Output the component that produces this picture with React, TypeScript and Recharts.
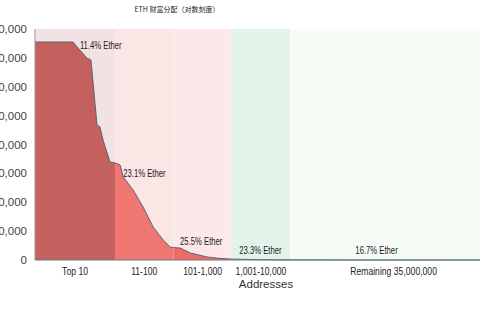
import {
  Area,
  ComposedChart,
  ReferenceArea,
  ReferenceDot,
  XAxis,
  YAxis,
} from "recharts";

// ETH 持币分布：地址按持有量排名 (对数 X 轴) vs 持有量
const title = "ETH 财富分配（对数刻度）";

// 排名 → 余额 (ETH)
const ranks = [0.425, 1.9, 2.5, 3.3, 3.87, 4.91, 5.53, 6.23, 8.2, 10, 12.2, 13.8, 20.4, 30.2, 44.9, 66.7, 88, 100, 131, 195, 380, 600, 935, 1000, 3100, 10000, 100000, 35000000];
const balances = [1510000, 1510000, 1454000, 1399000, 1385000, 935000, 921000, 831000, 679000, 672000, 658000, 575000, 485000, 367000, 229000, 138500, 90000, 86000, 83000, 48500, 20800, 12000, 6900, 6500, 2000, 1000, 200, 0];

// 区间 (地址分组)
const bandKeys = ["top", "mid", "low", "k10", "rest"];
const bandLabels = ["Top 10", "11-100", "101-1,000", "1,001-10,000", "Remaining 35,000,000"];
const bandLo = [0.425, 10, 100, 1000, 10000];
const bandHi = [10, 100, 1000, 10000, 35000000];
const bandBg = ["#f1e2e3", "#fbe5e5", "#fce8e8", "#e2f3ea", "#f5fcf6"];
const bandFill = ["#c4605e", "#f07672", "#ee6c68", "#e8a09a", "#e8a09a"];

// 每组占比标注
const shareText = ["11.4% Ether", "23.1% Ether", "25.5% Ether", "23.3% Ether", "16.7% Ether"];
const shareRank = [2.5, 13.8, 130, 1340, 131000];
const shareValue = [1489000, 602600, 131600, 69300, 69300];

const yTicks = [0, 200000, 400000, 600000, 800000, 1000000, 1200000, 1400000, 1600000];

const data = ranks.map((r, i) => {
  const row: Record<string, number | null> = { rank: r };
  bandKeys.forEach((k, b) => {
    row[k] = r >= bandLo[b] && r <= bandHi[b] ? balances[i] : null;
  });
  return row;
});

const bandCenters = bandLo.map((lo, i) => Math.sqrt(lo * bandHi[i]));

const sans = "'Liberation Sans', Arial, sans-serif";

// 原图文字是压窄的 Arial，用 scaleX 模拟
function NarrowText({ x, y, text, anchor, size, dy, sx }: { x: number; y: number; text: string; anchor: "start" | "middle"; size: number; dy: number; sx: number }) {
  return (
    <text
      transform={`translate(${x},${y}) scale(${sx},1)`}
      x={0}
      y={0}
      dy={dy}
      textAnchor={anchor}
      fontSize={size}
      fontFamily={sans}
      fill="#222"
    >
      {text}
    </text>
  );
}

const XTick = (props: any) => {
  const { x, y, payload } = props;
  const idx = bandCenters.findIndex((c) => Math.abs(c - payload.value) / c < 1e-6);
  return <NarrowText x={x} y={y} text={bandLabels[idx] ?? ""} anchor="middle" size={11.5} dy={7} sx={0.75} />;
};

export default function App() {
  return (
    <div style={{ position: "fixed", left: 0, top: 0, width: 480, height: 320, overflow: "hidden", background: "#fff" }}>
      <div
        style={{
          position: "absolute",
          left: 0,
          width: 354,
          top: 4,
          textAlign: "center",
          fontFamily: "'Noto Sans CJK SC', sans-serif",
          fontSize: 7,
          color: "#222",
          lineHeight: "10px",
        }}
      >
        {title}
      </div>
      <div style={{ position: "absolute", left: -25, top: 0 }}>
        <ComposedChart width={522} height={320} data={data} margin={{ top: 29, right: 0, left: 0, bottom: 27 }}>
          {bandKeys.map((k, i) => (
            <ReferenceArea key={k} x1={bandLo[i]} x2={bandHi[i]} y1={0} y2={1600000} fill={bandBg[i]} fillOpacity={1} stroke="none" ifOverflow="hidden" />
          ))}
          <XAxis
            type="number"
            dataKey="rank"
            scale="log"
            domain={[0.425, 35000000]}
            allowDataOverflow
            ticks={bandCenters}
            interval={0}
            tick={<XTick />}
            tickLine={false}
            stroke="#6b7b80"
            height={33}
            label={{ value: "Addresses", position: "insideBottom", offset: 5, fontSize: 11.5, fill: "#333", fontFamily: sans }}
          />
          <YAxis
            type="number"
            domain={[0, 1600000]}
            ticks={yTicks}
            interval={0}
            width={60}
            tickLine={false}
            stroke="#999"
            tickFormatter={(v: number) => v.toLocaleString("en-US")}
            tick={{ fontSize: 11.5, fill: "#444", fontFamily: sans }}
          />
          {bandKeys.map((k, i) => (
            <Area
              key={k}
              dataKey={k}
              type="linear"
              fill={bandFill[i]}
              fillOpacity={1}
              stroke="#5c6478"
              strokeWidth={1}
              baseValue={0}
              isAnimationActive={false}
            />
          ))}
          {shareText.map((t, i) => (
            <ReferenceDot
              key={t}
              x={shareRank[i]}
              y={shareValue[i]}
              r={0}
              ifOverflow="visible"
              label={(p: any) => <NarrowText x={p.viewBox?.x ?? 0} y={p.viewBox?.y ?? 0} text={t} anchor="start" size={11} dy={4} sx={0.7} />}
            />
          ))}
        </ComposedChart>
      </div>
    </div>
  );
}
